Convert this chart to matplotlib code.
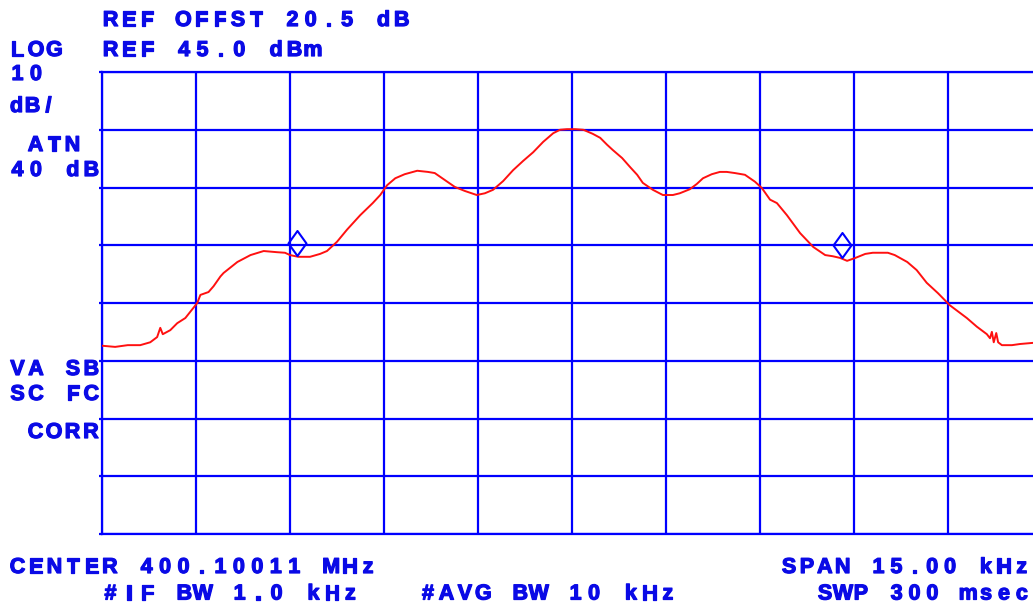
import matplotlib

matplotlib.use("Agg")
import matplotlib.pyplot as plt
import matplotlib.patheffects as pe
from matplotlib.path import Path as MPath

W, H = 1033, 605
BLUE = "#0000ff"
TEXT_BLUE = "#0a0ae6"
RED = "#ff1010"

# trace: frequency offset from center (kHz) and level (dBm)
freq_khz = [
    -7.50, -7.29, -7.09, -6.89, -6.73, -6.62, -6.57, -6.53, -6.41, -6.30,
    -6.17, -5.98, -5.93, -5.80, -5.72, -5.61, -5.56, -5.34, -5.13, -4.92,
    -4.71, -4.58, -4.50, -4.37, -4.18, -4.02, -3.91, -3.75, -3.59, -3.38,
    -3.18, -3.06, -2.95, -2.82, -2.67, -2.47, -2.30, -2.19, -2.03, -1.87,
    -1.71, -1.52, -1.39, -1.26, -1.10, -0.94, -0.78, -0.62, -0.46, -0.30,
    -0.19, -0.08, 0.05, 0.18, 0.33, 0.45, 0.56, 0.65, 0.80, 0.93,
    1.04, 1.13, 1.29, 1.45, 1.61, 1.72, 1.88, 1.99, 2.09, 2.23,
    2.36, 2.47, 2.60, 2.76, 2.92, 3.03, 3.16, 3.27, 3.43, 3.64,
    3.85, 4.04, 4.16, 4.28, 4.39, 4.52, 4.68, 4.80, 5.04, 5.15,
    5.35, 5.50, 5.66, 5.84, 6.03, 6.30, 6.46, 6.62, 6.67, 6.70,
    6.73, 6.77, 6.80, 6.86, 7.02, 7.15, 7.36, 7.60,
]
level_dbm = [
    -2.4, -2.6, -2.3, -2.3, -1.8, -0.9, 0.7, -0.4, 0.3, 1.5,
    2.4, 5.0, 6.4, 6.9, 7.9, 9.6, 10.2, 12.1, 13.3, 14.0,
    13.8, 13.7, 13.3, 13.0, 13.0, 13.5, 14.0, 15.6, 17.7, 20.2,
    22.3, 23.7, 25.4, 26.6, 27.3, 27.9, 27.7, 27.5, 26.3, 25.1,
    24.4, 23.7, 24.0, 24.6, 26.1, 28.0, 29.6, 31.1, 32.9, 34.4,
    35.0, 35.1, 35.1, 35.0, 34.3, 33.6, 32.4, 31.5, 30.1, 28.5,
    27.2, 25.8, 24.6, 23.7, 23.7, 24.0, 24.7, 25.6, 26.6, 27.3,
    27.7, 27.7, 27.5, 27.2, 26.0, 24.9, 22.9, 22.3, 20.2, 17.1,
    14.7, 13.3, 13.1, 12.8, 12.3, 12.8, 13.5, 13.7, 13.7, 13.3,
    12.1, 10.7, 8.5, 6.7, 4.6, 2.4, 0.9, -0.4, -1.1, 0.0,
    -1.8, -0.2, -1.8, -2.3, -2.3, -2.1, -1.9, -1.9,
]

marker_khz = [-4.39, 4.31]
marker_dbm = [15.4, 15.0]

REF_LEVEL = 45.0
DB_PER_DIV = 10
SPAN_KHZ = 15.0

# annotation lines: text, x center of first char (px), baseline (px), pitch (px)
LABELS = [
    ("REF OFFST 20.5 dB", 110.5, 26, 18.2),
    ("LOG", 17.5, 56, 18.45),
    ("REF 45.0 dBm", 110.5, 56, 18.4),
    ("10", 17.5, 80, 18.45),
    ("dB/", 16.5, 112, 16.0),
    ("ATN", 35.5, 151, 18.45),
    ("40 dB", 17.5, 176, 18.45),
    ("VA SB", 17.5, 375, 18.45),
    ("SC FC", 17.5, 400, 18.45),
    ("CORR", 35.5, 438, 18.45),
    ("CENTER 400.10011 MHz", 17.5, 573, 18.45),
    ("#IF BW 1.0 kHz", 110.5, 599.5, 18.45),
    ("#AVG BW 10 kHz", 428.0, 599.5, 18.45),
    ("SPAN 15.00 kHz", 789.0, 573, 17.9),
    ("SWP 300 msec", 825.0, 599.5, 17.9),
]


def draw_chars(fig, text, x0, y0, pitch):
    # instrument font: fixed character cells
    for i, ch in enumerate(text):
        if ch == " ":
            continue
        fig.text(
            (x0 + i * pitch) / W,
            1 - y0 / H,
            ch,
            ha="center",
            va="baseline",
            fontsize=15.5,
            fontweight="bold",
            family="Liberation Sans",
            color=TEXT_BLUE,
            path_effects=[pe.withStroke(linewidth=0.9, foreground=TEXT_BLUE)],
        )


def main() -> None:
    fig = plt.figure(figsize=(W / 100, H / 100), dpi=100)
    left, right, top, bottom = 102, 1042, 72, 534
    ax = fig.add_axes(
        [left / W, 1 - bottom / H, (right - left) / W, (bottom - top) / H]
    )

    half = SPAN_KHZ / 2
    ax.set_xlim(-half, half)
    ax.set_ylim(REF_LEVEL - 8 * DB_PER_DIV, REF_LEVEL)
    ax.set_xticks([-half + i * SPAN_KHZ / 10 for i in range(11)])
    ax.set_yticks([REF_LEVEL - i * DB_PER_DIV for i in range(9)])
    ax.grid(True, color=BLUE, linewidth=1.6)
    ax.set_axisbelow(True)
    ax.tick_params(axis="x", length=0, labelbottom=False)
    ax.tick_params(axis="y", length=2.5, width=1.6, color=BLUE, labelleft=False)
    for sp in ax.spines.values():
        sp.set_color(BLUE)
        sp.set_linewidth(1.6)

    ax.plot(freq_khz, level_dbm, color=RED, linewidth=1.4, zorder=3)

    diamond = MPath(
        [(0, 1), (0.72, 0), (0, -1), (-0.72, 0), (0, 1)],
        [MPath.MOVETO, MPath.LINETO, MPath.LINETO, MPath.LINETO, MPath.CLOSEPOLY],
    )
    ax.plot(
        marker_khz,
        marker_dbm,
        linestyle="none",
        marker=diamond,
        markersize=18,
        markerfacecolor="none",
        markeredgecolor=BLUE,
        markeredgewidth=1.5,
        zorder=4,
    )

    for text, x0, y0, pitch in LABELS:
        draw_chars(fig, text, x0, y0, pitch)

    fig.savefig("out.png", dpi=100)
    plt.close(fig)


if __name__ == "__main__":
    main()
